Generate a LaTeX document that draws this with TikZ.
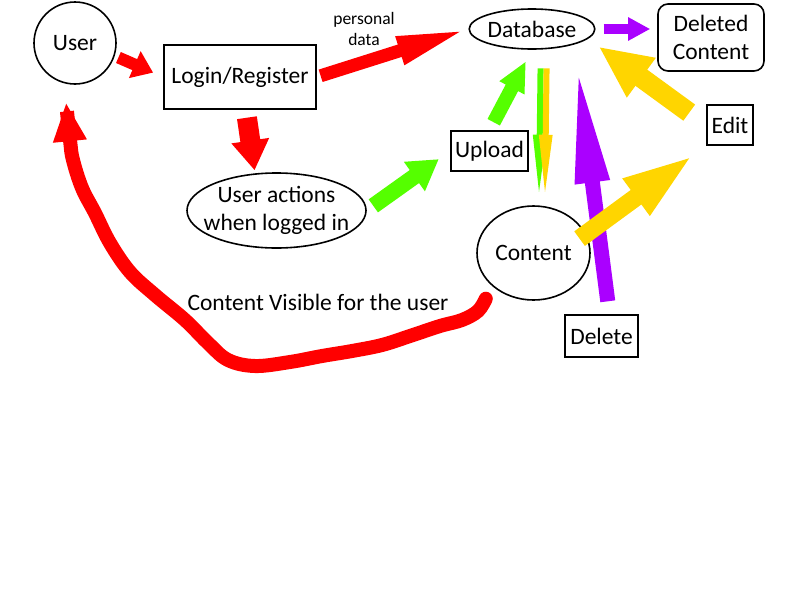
\documentclass[tikz,border=0pt]{standalone}
\usepackage{fontspec}
\setmainfont{Carlito}
\usetikzlibrary{arrows.meta,shapes.geometric}

\definecolor{arrred}{RGB}{255,0,0}
\definecolor{arrgreen}{RGB}{85,255,0}
\definecolor{arryellow}{RGB}{255,213,0}
\definecolor{arrpurple}{RGB}{170,0,255}

\begin{document}
\begin{tikzpicture}[x=1pt,y=-1pt,font=\fontsize{23.5}{28}\selectfont,
  box/.style={draw,line width=1.6pt,inner sep=0pt,align=center},
  oval/.style={box,ellipse},
  fat/.style n args={4}{draw=#1,line width=#2,-{Triangle[length=#3,width=#4]}},
]
\useasboundingbox (0,0) rectangle (800,600);

\node[oval,minimum width=82,minimum height=82] (user) at (75,43) {User};
\node[box,minimum width=152,minimum height=64] (login) at (240,77) {Login/Register};
\node[oval,minimum width=124,minimum height=40] (db) at (532,29) {Database};
\node[box,rounded corners=10pt,minimum width=106,minimum height=67] (deleted) at (711,37.5) {Deleted\\Content};
\node[box,minimum width=46,minimum height=40] (edit) at (730,125) {Edit};
\node[box,minimum width=77,minimum height=40] (upload) at (489.5,151) {Upload};
\node[oval,inner xsep=-16pt,minimum width=179,minimum height=75] (actions) at (276.5,210.5) {User actions\\when logged in};
\node[oval,minimum width=113,minimum height=94] (content) at (533.5,253) {Content};
\node[box,minimum width=73,minimum height=42] (delete) at (601.5,336) {Delete};
\node[align=center,font=\fontsize{17.5}{21}\selectfont] (personal) at (364,29) {personal\\data};
\node (visible) at (318,302) {Content Visible for the user};

% red
\draw[fat={arrred}{12}{20}{28},shorten <=4,shorten >=11] (user.-18) -- (login.west);
\draw[fat={arrred}{13}{72}{26},shorten <=4] (login.east) -- (db.west);
\draw[fat={arrred}{20}{30}{36},shorten <=8,shorten >=3] (login.-80) -- (actions.120);
\draw[fat={arrred}{14}{39}{31},line cap=round,shorten >=19]
  plot[smooth,tension=0.6] coordinates {([shift={(-11,9)}]content.225) (478,311) (462,320) (440,326)
  (410,336) (382,345) (352,351) (322,356) (290,362) (255,366) (228,360) (208,343)
  (185,320) (155,295) (130,272) (110,243) (95,213) (82,188) (73,160) (70,140) (user.255)};

% green
\draw[fat={arrgreen}{16}{30}{34},shorten <=8,shorten >=14] (actions.east) -- (upload.west);
\draw[fat={arrgreen}{14}{30}{26},shorten <=9,shorten >=13] (upload.north) -- (db.south);
\draw[fat={arrgreen}{6}{65}{12},shorten <=19,shorten >=6,transform canvas={xshift=-3pt}] (db.-60) -- (content.80);
\draw[fat={arryellow}{6}{65}{12},shorten <=19,shorten >=6,transform canvas={xshift=3pt}] (db.-60) -- (content.80);

% purple
\draw[fat={arrpurple}{10}{22}{22},shorten <=8,shorten >=7] (db.east) -- (db.east -| deleted.west);
\draw[fat={arrpurple}{15}{119}{31},shorten <=13,shorten >=20] (delete.70) -- (db.-20);

% yellow
\draw[fat={arryellow}{18}{73}{40},shorten <=-8,shorten >=14] (content.20) -- (edit.south west);
\draw[fat={arryellow}{20}{53}{45},shorten <=21,shorten >=13] (edit.west) -- (db.-10);

\end{tikzpicture}
\end{document}
